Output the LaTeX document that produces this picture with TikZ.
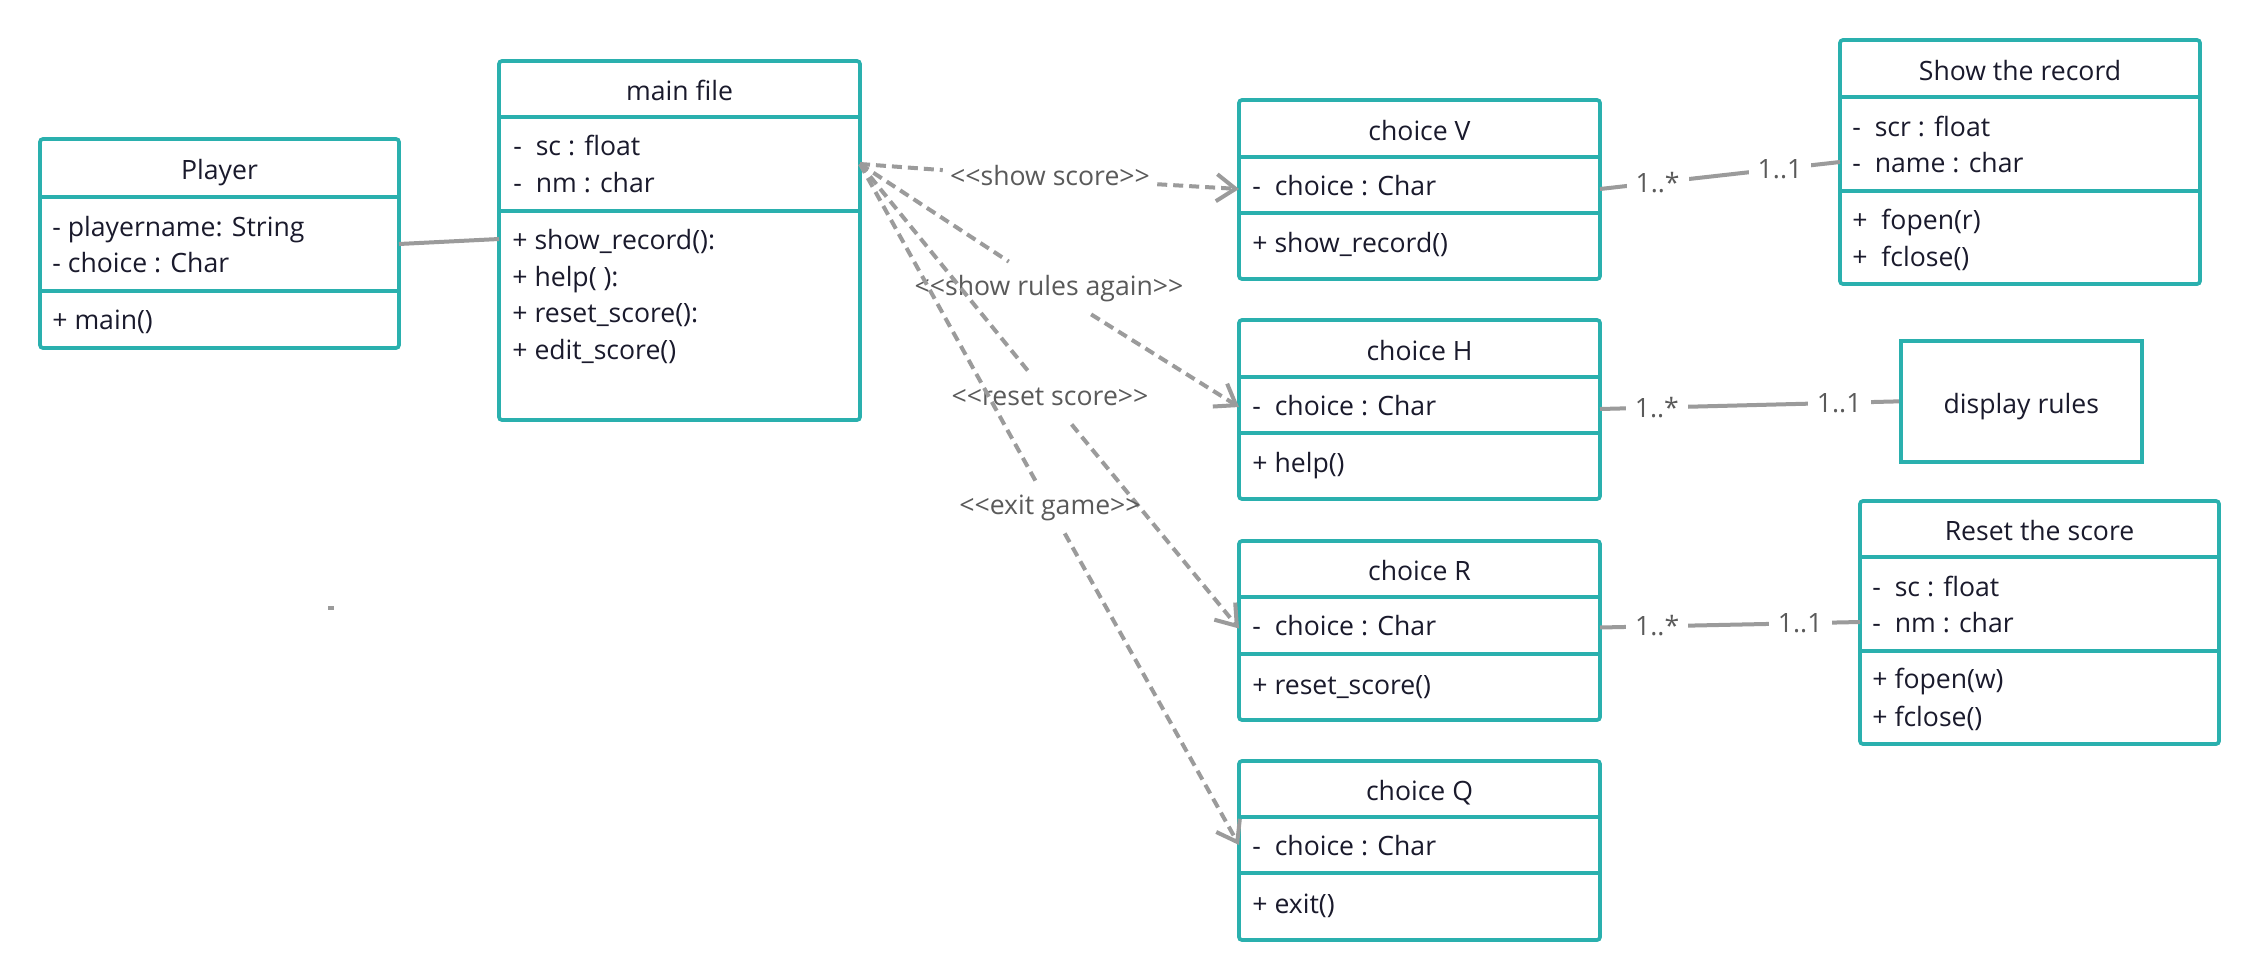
\documentclass[tikz,border=0pt]{standalone}
\usepackage{fontspec}
\setmainfont{Open Sans}
\usetikzlibrary{arrows.meta}
\definecolor{tealc}{HTML}{2AB0AE}
\definecolor{ink}{HTML}{1A1A2C}
\definecolor{conn}{HTML}{9B9B9B}
\definecolor{lblc}{HTML}{5A5A5A}
\newcommand\fs{\fontsize{13.3}{16}\selectfont}
\newcommand\mkpart[6]{\node[#6, anchor=north west, minimum width={(#4-#2)*0.5pt}, minimum height={(#5-#3)*0.5pt}, inner sep=0pt, outer sep=0pt] (#1) at (#2,#3) {};}
% name, x1, y1, x2, y2, divider1, divider2
\newcommand\umlclass[7]{%
  \mkpart{#1}{#2}{#3}{#4}{#5}{clsbox}
  \mkpart{#1t}{#2}{#3}{#4}{#6}{part}
  \mkpart{#1a}{#2}{#6}{#4}{#7}{part}
  \mkpart{#1m}{#2}{#7}{#4}{#5}{part}
  \draw[divider] (#1t.south west) -- (#1t.south east);
  \draw[divider] (#1a.south west) -- (#1a.south east);
}
\newcommand\tline[4]{\node[txt, anchor=west] (#1) at (#2,#3) {#4};}
\begin{document}
\begin{tikzpicture}[x=0.5pt, y=-0.5pt,
  clsbox/.style={draw=tealc, line width=1.85pt, fill=white, rounded corners=1.5pt},
  part/.style={},
  divider/.style={draw=tealc, line width=1.85pt},
  txt/.style={font=\fs, text=ink, inner sep=0pt, text height=9.5pt, text depth=0pt},
  dep/.style={draw=conn, line width=2pt, dash pattern=on 5pt off 3pt},
  deptip/.style={-{Straight Barb[length=9.5pt, width=13.5pt, line width=2pt]}},
  deplbl/.style={font=\fs, text=lblc, inner xsep=3.5pt, inner ysep=6.5pt, text height=10pt, text depth=3pt},
  assoc/.style={draw=conn, line width=2pt},
  mult/.style={font=\fs, text=lblc, fill=white, inner xsep=4.5pt, inner ysep=1pt, text height=9.5pt, text depth=0pt}
]
\fill[white] (0,0) rectangle (2260,980);
\useasboundingbox (0,0) rectangle (2260,980);

% Player
\umlclass{pl}{40}{139}{399}{348}{197}{291}
\node[txt] (pl-title) at ([yshift=-1pt]plt.center) {Player};
\tline{pl-a1}{52}{227}{- playername: String}
\tline{pl-a2}{52}{263}{- choice : Char}
\tline{pl-m1}{52}{320}{+ main()}

% main file
\umlclass{mf}{499}{61}{860}{420}{117}{211}
\node[txt] (mf-title) at ([yshift=-1pt]mft.center) {main file};
\tline{mf-a1}{513}{146}{-~~sc : float}
\tline{mf-a2}{513}{183}{-~~nm : char}
\tline{mf-m1}{512}{240}{+ show\_record():}
\tline{mf-m2}{512}{277}{+ help( ):}
\tline{mf-m3}{512}{313}{+ reset\_score():}
\tline{mf-m4}{512}{350}{+ edit\_score()}

% choice V
\umlclass{v}{1239}{100}{1600}{279}{157}{213}
\node[txt] (v-title) at ([yshift=-1pt]vt.center) {choice V};
\tline{v-a1}{1252}{186}{-~~choice : Char}
\tline{v-m1}{1252}{243}{+ show\_record()}

% choice H
\umlclass{h}{1239}{320}{1600}{499}{377}{433}
\node[txt] (h-title) at ([yshift=-1pt]ht.center) {choice H};
\tline{h-a1}{1252}{406}{-~~choice : Char}
\tline{h-m1}{1252}{463}{+ help()}

% choice R
\umlclass{r}{1239}{541}{1600}{720}{597}{654}
\node[txt] (r-title) at ([yshift=-1pt]rt.center) {choice R};
\tline{r-a1}{1252}{626}{-~~choice : Char}
\tline{r-m1}{1252}{685}{+ reset\_score()}

% choice Q
\umlclass{q}{1239}{761}{1600}{940}{817}{873}
\node[txt] (q-title) at ([yshift=-1pt]qt.center) {choice Q};
\tline{q-a1}{1252}{846}{-~~choice : Char}
\tline{q-m1}{1252}{904}{+ exit()}

% Show the record
\umlclass{s}{1840}{40}{2200}{284}{97}{191}
\node[txt] (s-title) at ([yshift=-1pt]st.center) {Show the record};
\tline{s-a1}{1852}{127}{-~~scr : float}
\tline{s-a2}{1852}{163}{-~~name : char}
\tline{s-m1}{1852}{220}{+~~fopen(r)}
\tline{s-m2}{1852}{257}{+~~fclose()}

% display rules
\node[draw=tealc, line width=1.85pt, fill=white, minimum width=120.5pt, minimum height=60.5pt, inner sep=0pt, anchor=north west] (dr) at (1899,339) {};
\node[txt] (dr-text) at ([yshift=-1.5pt]dr.center) {display rules};

% Reset the score
\umlclass{rs}{1860}{501}{2219}{744}{557}{651}
\node[txt] (rs-title) at ([yshift=-1pt]rst.center) {Reset the score};
\tline{rs-a1}{1872}{587}{-~~sc : float}
\tline{rs-a2}{1872}{623}{-~~nm : char}
\tline{rs-m1}{1872}{679}{+ fopen(w)}
\tline{rs-m2}{1872}{717}{+ fclose()}

% Player -- main file
\draw[assoc] (pla.east) -- ([yshift=-14pt]mfm.north west);

% dependencies
\node[deplbl] (lss) at (1050,178) {<{}<show score>{}>};
\draw[dep] (mfa.east) -- (lss);
\draw[dep, deptip] (lss) -- ([yshift=-2pt]va.west);

\node[deplbl] (lsr) at (1049,288) {<{}<show rules again>{}>};
\draw[dep] (mfa.east) -- (lsr);
\draw[dep, deptip] (lsr) -- ([yshift=-1pt]ha.west);

\node[deplbl] (lrs) at (1050,398) {<{}<reset score>{}>};
\draw[dep] (mfa.east) -- (lrs);
\draw[dep, deptip] (lrs) -- ([yshift=-1.5pt]ra.west);

\node[deplbl] (leg) at (1050,507) {<{}<exit game>{}>};
\draw[dep] (mfa.east) -- (leg);
\draw[dep, deptip] (leg) -- (qa.west);

% associations with multiplicities
\draw[assoc] ([yshift=-2pt]va.east) -- node[mult, pos=0.24] (m1) {1..*} node[mult, pos=0.75] (m2) {1..1} ([yshift=-9pt]sa.west);
\draw[assoc] ([yshift=-2pt]ha.east) -- node[mult, pos=0.19] (m3) {1..*} node[mult, pos=0.80] (m4) {1..1} (dr.west);
\draw[assoc] ([yshift=-1pt]ra.east) -- node[mult, pos=0.22] (m5) {1..*} node[mult, pos=0.77] (m6) {1..1} ([yshift=-9pt]rsa.west);

% stray mark
\fill[conn] (328,606) rectangle (334,610);
\end{tikzpicture}
\end{document}
